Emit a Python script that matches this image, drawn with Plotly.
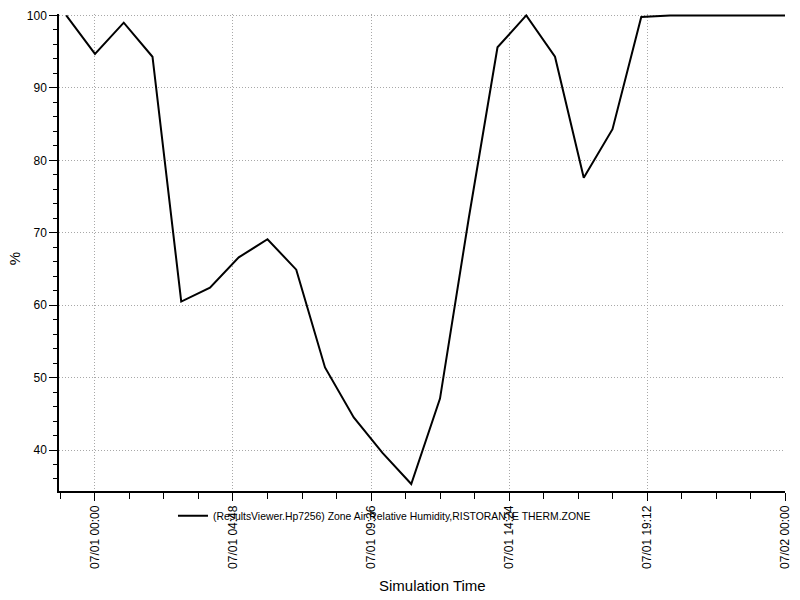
import plotly.graph_objects as go

# ---- data ----
times = [
    "2024-06-30 23:00", "2024-07-01 00:00", "2024-07-01 01:00", "2024-07-01 02:00",
    "2024-07-01 03:00", "2024-07-01 04:00", "2024-07-01 05:00", "2024-07-01 06:00",
    "2024-07-01 07:00", "2024-07-01 08:00", "2024-07-01 09:00", "2024-07-01 10:00",
    "2024-07-01 11:00", "2024-07-01 12:00", "2024-07-01 13:00", "2024-07-01 14:00",
    "2024-07-01 15:00", "2024-07-01 16:00", "2024-07-01 17:00", "2024-07-01 18:00",
    "2024-07-01 19:00", "2024-07-01 20:00", "2024-07-01 21:00", "2024-07-01 22:00",
    "2024-07-01 23:00", "2024-07-02 00:00",
]
rel_humidity = [
    100, 94.7, 99.0, 94.3, 60.5, 62.4, 66.6, 69.1, 64.9, 51.4, 44.5, 39.6, 35.3,
    47.1, 72.0, 95.6, 100, 94.3, 77.6, 84.3, 99.8, 100, 100, 100, 100, 100,
]
series_name = "(ResultsViewer.Hp7256) Zone Air Relative Humidity,RISTORANTE THERM.ZONE"

x_tick_vals = ["2024-07-01 00:00", "2024-07-01 04:48", "2024-07-01 09:36",
               "2024-07-01 14:24", "2024-07-01 19:12", "2024-07-02 00:00"]
x_tick_text = ["07/01 00:00", "07/01 04:48", "07/01 09:36",
               "07/01 14:24", "07/01 19:12", "07/02 00:00"]
y_tick_vals = [40, 50, 60, 70, 80, 90, 100]
x_title = "Simulation Time"
y_title = "%"

FONT = "Liberation Sans"
GRID = "#a8a8a8"

fig = go.Figure()
fig.add_trace(go.Scatter(
    x=times, y=rel_humidity, mode="lines", name=series_name,
    line=dict(color="black", width=2),
))

fig.update_layout(
    width=800, height=600,
    margin=dict(l=59, r=15, t=8.5, b=109.3),
    plot_bgcolor="white", paper_bgcolor="white",
    font=dict(family=FONT, size=12, color="black"),
    showlegend=True,
    legend=dict(orientation="h", x=0.157, y=-0.052, xanchor="left", yanchor="middle",
                bgcolor="rgba(0,0,0,0)", font=dict(family=FONT, size=10.4, color="black")),
    xaxis=dict(
        type="date",
        range=["2024-06-30 22:44:53", "2024-07-02 00:00"],
        tickvals=x_tick_vals, ticktext=x_tick_text, tickangle=-90,
        ticks="outside", ticklen=8, tickcolor="black", tickwidth=1,
        showline=True, linecolor="black", linewidth=1.5,
        showgrid=True, gridcolor=GRID, griddash="1px,2px", gridwidth=1,
        zeroline=False,
        minor=dict(ticks="outside", ticklen=6, tickcolor="black", tickwidth=1,
                   dtick=1.2 * 3600 * 1000, tick0="2024-07-01 00:00", showgrid=False),
        tickfont=dict(family=FONT, size=12, color="black"),
    ),
    yaxis=dict(
        range=[34.34, 100.2],
        tickvals=y_tick_vals,
        ticks="outside", ticklen=8, tickcolor="black", tickwidth=1,
        showline=True, linecolor="black", linewidth=1.5,
        showgrid=True, gridcolor=GRID, griddash="1px,2px", gridwidth=1,
        zeroline=False,
        minor=dict(ticks="outside", ticklen=4, tickcolor="black", tickwidth=1,
                   dtick=2, tick0=0, showgrid=False),
        tickfont=dict(family=FONT, size=12, color="black"),
    ),
)

fig.add_annotation(text=x_title, xref="paper", yref="paper", x=0.514, y=-0.198,
                   xanchor="center", yanchor="middle", showarrow=False,
                   font=dict(family=FONT, size=15, color="black"))
fig.add_annotation(text=y_title, xref="paper", yref="paper", x=-0.062, y=0.488,
                   xanchor="center", yanchor="middle", showarrow=False, textangle=-90,
                   font=dict(family=FONT, size=15, color="black"))

fig.write_html("out.html", config={"displayModeBar": False},
               post_script="document.body.style.margin='0';")
